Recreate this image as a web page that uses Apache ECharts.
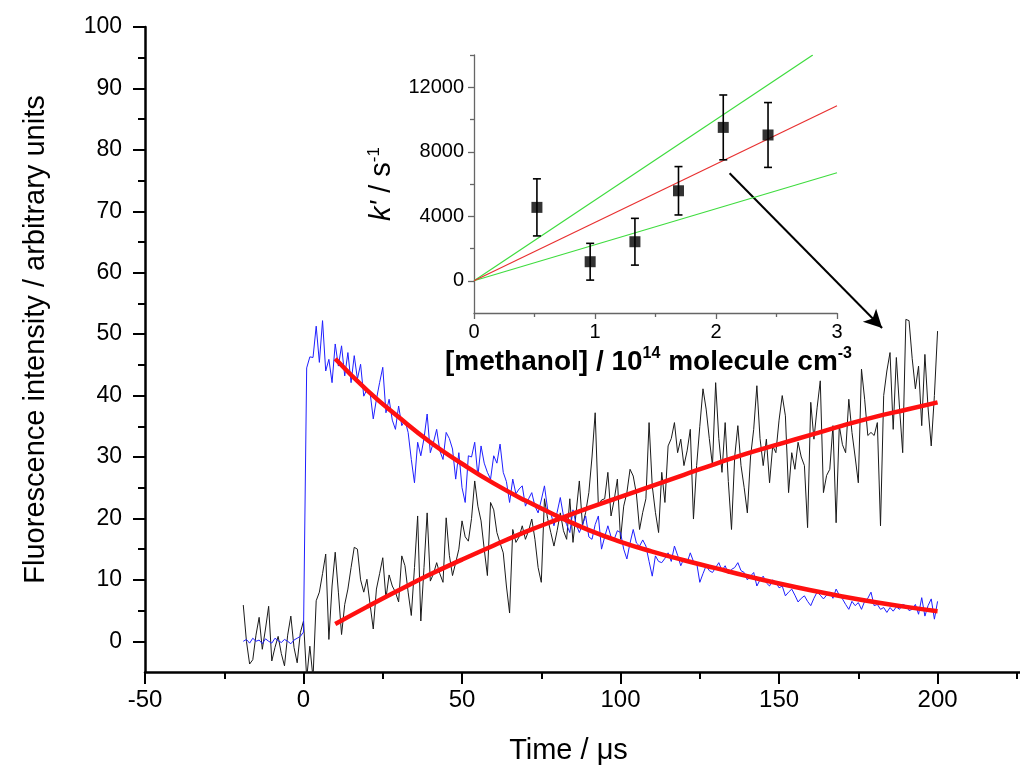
<!DOCTYPE html>
<html>
<head>
<meta charset="utf-8">
<script src="https://cdn.jsdelivr.net/npm/echarts@6/dist/echarts.min.js"></script>
<style>html,body{margin:0;padding:0;background:#fff}#c{width:1020px;height:771px}</style>
</head>
<body>
<div id="c"></div>
<script>
// ---- main plot data (time in microseconds, 1 us step) ----
const TIME_START = -19;
const TIME_STEP = 1;
const blackTrace = [
  5.9, 0, -3.7, -3, 1, 3.9, -1.3, 2, 5.7, -3.2,
  -1, 0.8, -2, -4, 1, 4.1, -1, -3.5, 1.4, 3.3,
  -6, -0.8, -6, 6.6, 8, 11, 14.2, 0.3, 9, 14.5,
  8, 1.1, 6, 8.5, 12, 15.3, 15.0, 10, 8.0, 10.1,
  6, 2.0, 8.5, 11, 13.6, 7.0, 10.8, 9, 8, 6.4,
  13.9, 12.3, 8, 4.2, 12, 20.4, 3.3, 12, 20.9, 9.8,
  11, 12.8, 11, 9.6, 20.1, 14, 10.7, 12.8, 15, 19.6,
  17, 16.3, 20, 26.1, 22, 19.6, 15, 10.7, 22.6, 21.4,
  17.7, 16, 14.4, 9, 4.6, 18.2, 16.1, 17, 18.8, 16.6,
  18, 19.9, 16.6, 12, 9.6, 23.2, 20, 17.7, 15.5, 18,
  20.9, 18, 16.6, 23.2, 16.1, 21, 26.1, 18.8, 21, 24.2,
  30, 37.2, 22.1, 23, 23.2, 27.5, 20.4, 23, 26.4, 16.6,
  22, 24.2, 28.0, 26.9, 24, 18.2, 21, 23.2, 35.6, 25.3,
  21, 17.7, 27.5, 22.6, 31.8, 33, 35.6, 30.7, 32.9, 28.6,
  31, 34.5, 19.9, 28.6, 35, 41.1, 37.8, 33, 28.6, 42.1,
  33, 27.5, 35.6, 26, 18.2, 30, 35.1, 28.6, 25, 20.9,
  30, 34.5, 41.6, 33, 28.6, 32.9, 25.8, 31.8, 30.7, 36,
  40.0, 36.7, 24.2, 30.7, 28, 32.4, 30, 28.6, 18.5, 38.9,
  32.9, 38, 42.4, 24.2, 27, 28, 35.1, 19.3, 35.1, 32,
  30.7, 39.4, 34, 30, 25.8, 44.3, 39.4, 33.5, 34, 33.5,
  35.6, 18.8, 40, 44, 47.0, 34.5, 46.2, 38, 30.7, 52.4,
  52.2, 46, 41.1, 44.8, 35.1, 46.7, 38, 31.8, 40, 50.5
];
const blueTrace = [
  0, 0.3, -0.3, 0.5, 0, 0.2, -0.4, 0.4, 0, -0.3,
  0.5, 0.1, -0.2, 0.3, 0, -0.4, 0.2, 0.5, 0.8, 1.5,
  44.5, 46.3, 46.2, 51.3, 45.4, 52.2, 44, 45.9, 42.1, 48.4,
  44.8, 48.1, 43.2, 47.0, 42.1, 46.5, 42.7, 45.1, 39.9, 41,
  40.5, 36.2, 39.4, 42.1, 44.6, 37.2, 39.4, 36, 34.5, 38.3,
  35.1, 36, 34.0, 29.6, 25.8, 32.4, 30.2, 33, 37.0, 30.7,
  32.4, 34.5, 31, 29.6, 34.0, 33, 31.3, 26.4, 30.7, 25,
  22.6, 30.2, 30, 32.4, 26.9, 31.8, 29, 27.5, 26.4, 30.2,
  29, 32.1, 27.5, 26, 22.6, 26.4, 24, 24.8, 25.3, 22,
  23.2, 24.2, 22, 20.9, 23, 25.3, 21.5, 20.9, 18.8, 21,
  23.4, 20.4, 19, 17.7, 21.4, 19, 17.7, 19, 20.4, 17,
  16.6, 19, 20.4, 15, 17, 18.8, 17, 16.6, 18, 17.7,
  15, 13.4, 16, 18.2, 16, 15.5, 16.5, 15.5, 13, 10.6,
  13.9, 13, 12.8, 13.5, 14.4, 13, 15.5, 14, 12.3, 13.5,
  12.8, 14.4, 13, 12.8, 9.6, 11, 12.3, 11.5, 11.2, 12,
  12.8, 11.5, 12.3, 11, 11.7, 12, 12.8, 11.5, 11.2, 10,
  10.6, 11.2, 9.0, 10, 10.6, 9.5, 9.0, 10, 9.6, 8.7,
  9, 7.4, 8, 8.5, 7.5, 6.4, 7, 7.4, 6.5, 5.8,
  7, 8, 7.5, 6.9, 7.5, 8.0, 7, 8.5, 7.5, 6.9,
  6, 5.2, 6.5, 5.8, 6.3, 5.2, 6.5, 7, 8.0, 5.8,
  6, 5.2, 5.5, 4.7, 5.5, 4.9, 5.6, 5.2, 6, 5.8,
  5, 5.2, 6, 4.4, 7.1, 4.1, 5.8, 6.9, 3.6, 6.5
];
// fitted curves (read at 10 us steps)
const fitTimes = [10, 20, 30, 40, 50, 60, 70, 80, 90, 100, 110, 120, 130, 140, 150, 160, 170, 180, 190, 200];
const fitDecay = [46, 40.9, 36.5, 32.4, 28.9, 25.7, 22.9, 20.4, 18.1, 16.2, 14.6, 13.2, 11.9, 10.6, 9.4, 8.3, 7.3, 6.4, 5.6, 4.9];
const fitRise = [2.8, 5.6, 8.3, 10.9, 13.3, 15.6, 17.8, 19.8, 21.7, 23.5, 25.3, 27.1, 28.9, 30.6, 32.1, 33.6, 35.1, 36.5, 37.7, 38.9];
const mainXMinor = [-25, 25, 75, 125, 175, 225];
const mainYLabels = [0, 10, 20, 30, 40, 50, 60, 70, 80, 90, 100];
const mainYMinor = [5, 15, 25, 35, 45, 55, 65, 75, 85, 95];
// arrow annotation (main-axis data coordinates)
const arrowFrom = [134.4, 76.2];
const arrowTo = [182.5, 51.0];

// ---- inset data ----
const methanol = [0.52, 0.96, 1.33, 1.69, 2.06, 2.43];
const kPrime = [4550, 1180, 2420, 5580, 9510, 9040];
const kErr = [1770, 1140, 1450, 1500, 2010, 2010];
const fitBest = [[0, 0], [3, 10850]];
const fitUpper = [[0, 0], [2.8, 14000]];
const fitLower = [[0, 0], [3, 6700]];
const insetYLabels = [0, 4000, 8000, 12000];
const insetYMinor = [2000, 6000, 10000, 14000];

const times = blackTrace.map((_, i) => TIME_START + i * TIME_STEP);
const blackData = times.map((t, i) => [t, blackTrace[i]]);
const blueData = times.map((t, i) => [t, blueTrace[i]]);
const decayData = fitTimes.map((t, i) => [t, fitDecay[i]]);
const riseData = fitTimes.map((t, i) => [t, fitRise[i]]);
const pointData = methanol.map((x, i) => [x, kPrime[i]]);
const errData = methanol.map((x, i) => [x, kPrime[i] - kErr[i], kPrime[i] + kErr[i]]);

const FONT = "'Liberation Sans', Arial, sans-serif";
const plain = v => String(v);
const chart = echarts.init(document.getElementById('c'), null, {renderer: 'canvas'});

const option = {
  animation: false,
  backgroundColor: '#fff',
  grid: [
    {left: 145, top: 27, width: 883, height: 645},
    {left: 474, top: 55, width: 363, height: 258}
  ],
  xAxis: [
    {
      gridIndex: 0, type: 'value', min: -50, max: 226, interval: 50, position: 'bottom',
      axisLine: {onZero: false, lineStyle: {color: '#000', width: 2.5}},
      axisTick: {inside: false, length: 12, lineStyle: {color: '#000', width: 2}},
      axisLabel: {formatter: plain, showMaxLabel: false, margin: 16, color: '#000', fontSize: 24, fontFamily: FONT},
      splitLine: {show: false},
      name: 'Time / μs', nameLocation: 'middle', nameGap: 64,
      nameTextStyle: {color: '#000', fontSize: 29, fontFamily: FONT, padding: [0, 28, 0, 0]}
    },
    {
      gridIndex: 0, type: 'value', min: -50, max: 226, position: 'bottom',
      axisLine: {show: false, onZero: false},
      axisTick: {inside: false, length: 7, lineStyle: {color: '#000', width: 2}, customValues: mainXMinor},
      axisLabel: {show: false}, splitLine: {show: false}
    },
    {
      gridIndex: 1, type: 'value', min: 0, max: 3, interval: 1, position: 'bottom',
      axisLine: {onZero: false, lineStyle: {color: '#666', width: 1.3}},
      axisTick: {length: 6, lineStyle: {color: '#666', width: 1.3}},
      minorTick: {show: true, splitNumber: 2, length: 4, lineStyle: {color: '#666', width: 1.3}},
      axisLabel: {formatter: plain, margin: 9, color: '#000', fontSize: 20, fontFamily: FONT},
      splitLine: {show: false},
      name: '[methanol] / 10{sup|14} molecule cm{sup|-3}', nameLocation: 'middle', nameGap: 33,
      nameTextStyle: {
        color: '#000', fontSize: 28, fontWeight: 'bold', fontFamily: FONT, lineHeight: 32,
        padding: [0, 14, 0, 0],
        rich: {sup: {fontSize: 16, fontWeight: 'bold', fontFamily: FONT, verticalAlign: 'top', lineHeight: 16, color: '#000'}}
      }
    }
  ],
  yAxis: [
    {
      gridIndex: 0, type: 'value', min: -5, max: 100, position: 'left',
      axisLine: {onZero: false, lineStyle: {color: '#000', width: 2.5}},
      axisTick: {length: 12, lineStyle: {color: '#000', width: 2}, customValues: mainYLabels},
      axisLabel: {customValues: mainYLabels, formatter: plain, margin: 23, color: '#000', fontSize: 23, fontFamily: FONT},
      splitLine: {show: false},
      name: 'Fluorescence intensity / arbitrary units', nameLocation: 'middle', nameGap: 95,
      nameTextStyle: {color: '#000', fontSize: 29, fontFamily: FONT, padding: [0, 0, 0, 20]}
    },
    {
      gridIndex: 0, type: 'value', min: -5, max: 100, position: 'left',
      axisLine: {show: false, onZero: false},
      axisTick: {length: 7, lineStyle: {color: '#000', width: 2}, customValues: mainYMinor},
      axisLabel: {show: false}, splitLine: {show: false}
    },
    {
      gridIndex: 1, type: 'value', min: -2000, max: 14000, position: 'left',
      axisLine: {onZero: false, lineStyle: {color: '#666', width: 1.3}},
      axisTick: {length: 6, lineStyle: {color: '#666', width: 1.3}, customValues: insetYLabels},
      axisLabel: {customValues: insetYLabels, formatter: plain, margin: 10, color: '#000', fontSize: 20, fontFamily: FONT},
      splitLine: {show: false},
      name: "{i|k'} / s{sup|-1}", nameLocation: 'middle', nameGap: 76,
      nameTextStyle: {
        color: '#000', fontSize: 29, fontFamily: FONT, lineHeight: 32,
        rich: {
          i: {fontStyle: 'italic', fontSize: 29, fontFamily: FONT, color: '#000'},
          sup: {fontSize: 17, fontFamily: FONT, verticalAlign: 'top', lineHeight: 17, color: '#000'}
        }
      }
    },
    {
      gridIndex: 1, type: 'value', min: -2000, max: 14000, position: 'left',
      axisLine: {show: false, onZero: false},
      axisTick: {length: 4, lineStyle: {color: '#666', width: 1.3}, customValues: insetYMinor},
      axisLabel: {show: false}, splitLine: {show: false}
    }
  ],
  series: [
    {
      type: 'line', xAxisIndex: 0, yAxisIndex: 0, data: blackData, symbol: 'none',
      lineStyle: {color: '#1a1a1a', width: 1}, z: 2
    },
    {
      type: 'line', xAxisIndex: 0, yAxisIndex: 0, data: blueData, symbol: 'none',
      lineStyle: {color: '#1f1fff', width: 1}, z: 3
    },
    {
      type: 'line', xAxisIndex: 0, yAxisIndex: 0, data: decayData, symbol: 'none', smooth: true,
      lineStyle: {color: '#ff1010', width: 4.5}, z: 5
    },
    {
      type: 'line', xAxisIndex: 0, yAxisIndex: 0, data: riseData, symbol: 'none', smooth: true,
      lineStyle: {color: '#ff1010', width: 4.5}, z: 5,
      markLine: {
        silent: true, animation: false,
        symbol: ['none', 'arrow'], symbolSize: [14, 18],
        lineStyle: {color: '#000', width: 2, type: 'solid'},
        label: {show: false},
        data: [[{coord: arrowFrom}, {coord: arrowTo}]]
      }
    },
    {
      type: 'line', xAxisIndex: 2, yAxisIndex: 2, data: fitUpper, symbol: 'none',
      lineStyle: {color: '#3fdc3f', width: 1.2}, z: 6
    },
    {
      type: 'line', xAxisIndex: 2, yAxisIndex: 2, data: fitLower, symbol: 'none',
      lineStyle: {color: '#3fdc3f', width: 1.2}, z: 6
    },
    {
      type: 'line', xAxisIndex: 2, yAxisIndex: 2, data: fitBest, symbol: 'none',
      lineStyle: {color: '#e83030', width: 1.2}, z: 6
    },
    {
      type: 'custom', xAxisIndex: 2, yAxisIndex: 2, data: errData, z: 7,
      renderItem: function (params, api) {
        const x = api.value(0);
        const lo = api.coord([x, api.value(1)]);
        const hi = api.coord([x, api.value(2)]);
        const w = 4;
        const st = {stroke: '#000', lineWidth: 1.6};
        return {
          type: 'group',
          children: [
            {type: 'line', shape: {x1: lo[0], y1: lo[1], x2: hi[0], y2: hi[1]}, style: st},
            {type: 'line', shape: {x1: lo[0] - w, y1: lo[1], x2: lo[0] + w, y2: lo[1]}, style: st},
            {type: 'line', shape: {x1: hi[0] - w, y1: hi[1], x2: hi[0] + w, y2: hi[1]}, style: st}
          ]
        };
      }
    },
    {
      type: 'scatter', xAxisIndex: 2, yAxisIndex: 2, data: pointData,
      symbol: 'rect', symbolSize: 11, itemStyle: {color: '#000'}, z: 8
    }
  ]
};
chart.setOption(option);
</script>
</body>
</html>
